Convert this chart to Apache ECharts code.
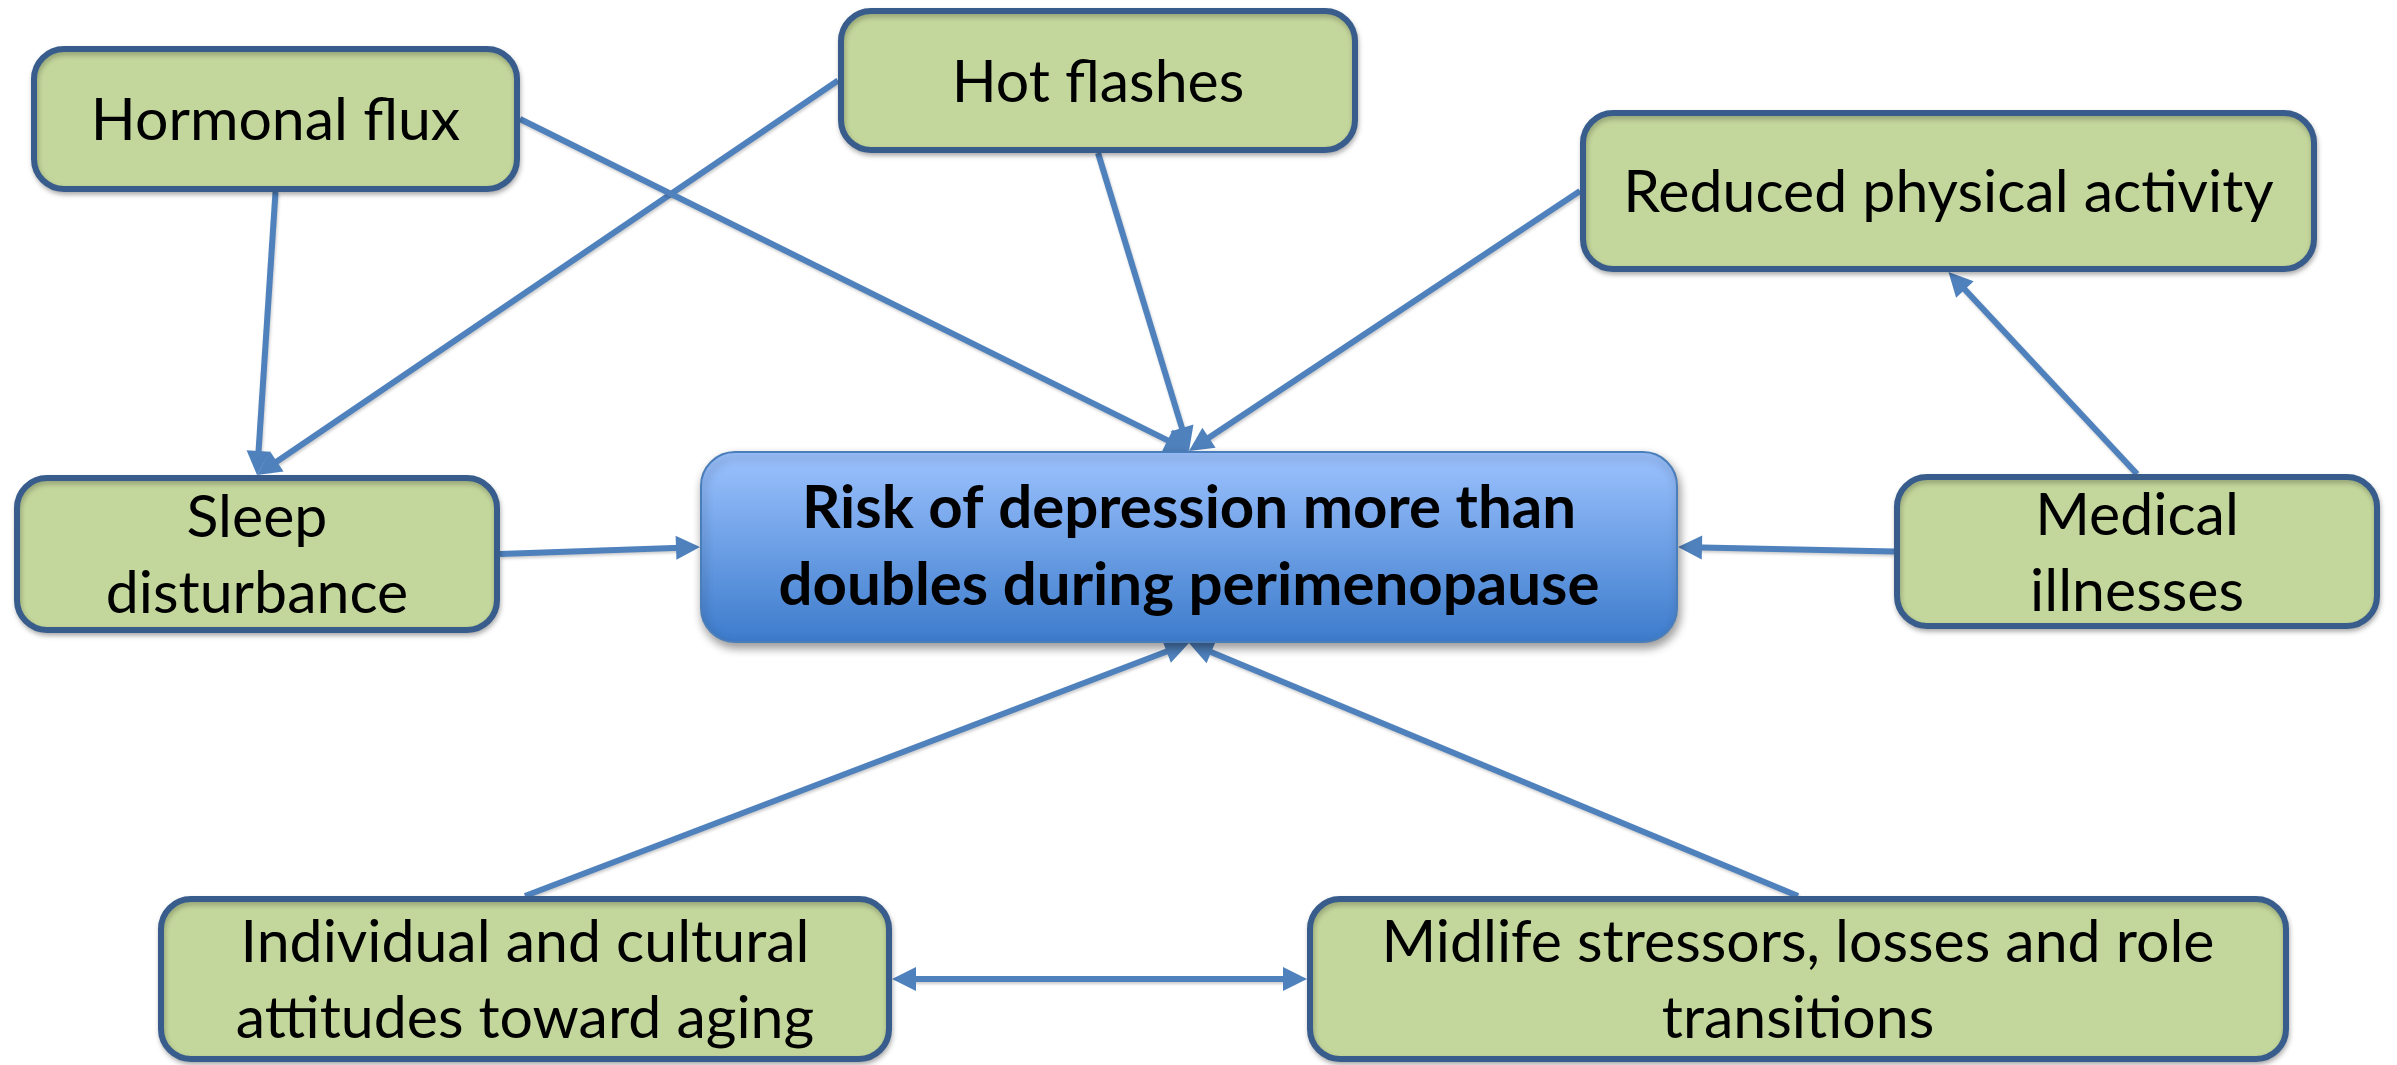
<!DOCTYPE html>
<html>
<head>
<meta charset="utf-8">
<script src="https://cdn.jsdelivr.net/npm/echarts@6/dist/echarts.min.js"></script>
<style>
html,body{margin:0;padding:0;background:#ffffff;}
#chart{width:2397px;height:1065px;}
</style>
</head>
<body>
<div id="chart"></div>
<script>
// ---------- content ----------
const nodeLabels = [
  'Hormonal flux',
  'Hot flashes',
  'Reduced physical activity',
  'Sleep\ndisturbance',
  'Risk of depression more than\ndoubles during perimenopause',
  'Medical\nillnesses',
  'Individual and cultural\nattitudes toward aging',
  'Midlife stressors, losses and role\ntransitions'
];
const nodeRole = ['factor','factor','factor','factor','outcome','factor','factor','factor'];

// directed links (index into nodeLabels)
const linkSource = [0, 1, 0, 1, 2, 5, 3, 5, 6, 7];
const linkTarget = [3, 3, 4, 4, 4, 2, 4, 4, 4, 4];
// two-way link
const twoWaySource = [6];
const twoWayTarget = [7];

// ---------- layout (diagram units, y downward) ----------
const nodeLeft   = [31, 838, 1580, 14, 700, 1894, 158, 1307];
const nodeTop    = [46, 8, 110, 475, 451, 474, 896, 896];
const nodeRight  = [520, 1358, 2317, 500, 1678, 2380, 892, 2289];
const nodeBottom = [192, 153, 272, 633, 643, 629, 1062, 1062];
const linkFromSide = ['bottom','left','right','bottom','left','top','right','left','top','top'];
const linkToSide   = ['top','top','top','top','top','bottom','left','right','bottom','bottom'];
const twoWayFromSide = ['right'];
const twoWayToSide   = ['left'];

const ARROW = 'path://M10,0 L20,22 L0,22 Z';
const ARROW_SIZE = 24;

function anchor(i, side) {
  const cx = (nodeLeft[i] + nodeRight[i]) / 2;
  const cy = (nodeTop[i] + nodeBottom[i]) / 2;
  if (side === 'top') return [cx, nodeTop[i]];
  if (side === 'bottom') return [cx, nodeBottom[i]];
  if (side === 'left') return [nodeLeft[i], cy];
  return [nodeRight[i], cy];
}
function shorten(a, b, d) {
  const dx = b[0] - a[0], dy = b[1] - a[1];
  const len = Math.sqrt(dx * dx + dy * dy);
  return [b[0] - dx / len * d, b[1] - dy / len * d];
}

const oneWayData = linkSource.map((s, k) => {
  const a = anchor(s, linkFromSide[k]);
  const b = anchor(linkTarget[k], linkToSide[k]);
  return { coords: [a, shorten(a, b, ARROW_SIZE / 2)] };
});
const twoWayData = twoWaySource.map((s, k) => {
  const a = anchor(s, twoWayFromSide[k]);
  const b = anchor(twoWayTarget[k], twoWayToSide[k]);
  return { coords: [shorten(b, a, ARROW_SIZE / 2), shorten(a, b, ARROW_SIZE / 2)] };
});

const boxData = nodeLabels.map((n, i) => [nodeLeft[i], nodeTop[i], nodeRight[i], nodeBottom[i]]);

function renderBox(params, api) {
  const i = params.dataIndex;
  const p1 = api.coord([api.value(0), api.value(1)]);
  const p2 = api.coord([api.value(2), api.value(3)]);
  const x = Math.min(p1[0], p2[0]), y = Math.min(p1[1], p2[1]);
  const w = Math.abs(p2[0] - p1[0]), h = Math.abs(p2[1] - p1[1]);
  const outcome = nodeRole[i] === 'outcome';
  const bw = outcome ? 2 : 6;
  const rectStyle = outcome ? {
    fill: {
      type: 'linear', x: 0, y: 0, x2: 0, y2: 1,
      colorStops: [{ offset: 0, color: '#9DC3FF' }, { offset: 1, color: '#3C7BCB' }]
    },
    stroke: '#4A7EBB', lineWidth: bw,
    shadowBlur: 10, shadowOffsetX: 2, shadowOffsetY: 5, shadowColor: 'rgba(0,0,0,0.4)'
  } : {
    fill: '#C3D69B', stroke: '#385D8C', lineWidth: bw,
    shadowBlur: 5, shadowOffsetX: 1, shadowOffsetY: 3, shadowColor: 'rgba(0,0,0,0.25)'
  };
  return {
    type: 'group',
    children: [
      {
        type: 'rect',
        shape: { x: x + bw / 2, y: y + bw / 2, width: w - bw, height: h - bw, r: outcome ? 34 : 30 },
        style: rectStyle
      },
      {
        type: 'text',
        style: {
          text: nodeLabels[i],
          x: x + w / 2, y: y + h / 2 + (outcome ? 0 : 2),
          align: 'center', verticalAlign: 'middle',
          fontFamily: 'Lato', fontSize: outcome ? 60 : 59,
          fontWeight: outcome ? 'bold' : 'normal',
          lineHeight: outcome ? 77 : 76,
          fill: '#000000'
        }
      }
    ]
  };
}

const chart = echarts.init(document.getElementById('chart'), null, { renderer: 'canvas' });
chart.setOption({
  animation: false,
  backgroundColor: '#ffffff',
  grid: { left: 0, right: 0, top: 0, bottom: 0, containLabel: false },
  xAxis: { type: 'value', min: 0, max: 2397, show: false },
  yAxis: { type: 'value', min: 0, max: 1065, inverse: true, show: false },
  series: [
    {
      type: 'lines', coordinateSystem: 'cartesian2d', silent: true, z: 1,
      symbol: ['none', ARROW], symbolSize: ARROW_SIZE,
      lineStyle: { color: '#4F81BD', width: 6, opacity: 1, curveness: 0,
        shadowBlur: 3, shadowOffsetX: 1, shadowOffsetY: 2, shadowColor: 'rgba(0,0,0,0.2)' },
      itemStyle: { color: '#4F81BD' },
      data: oneWayData
    },
    {
      type: 'lines', coordinateSystem: 'cartesian2d', silent: true, z: 1,
      symbol: [ARROW, ARROW], symbolSize: ARROW_SIZE,
      lineStyle: { color: '#4F81BD', width: 6, opacity: 1, curveness: 0,
        shadowBlur: 3, shadowOffsetX: 1, shadowOffsetY: 2, shadowColor: 'rgba(0,0,0,0.2)' },
      itemStyle: { color: '#4F81BD' },
      data: twoWayData
    },
    {
      type: 'custom', coordinateSystem: 'cartesian2d', silent: true, z: 2,
      encode: { x: [0, 2], y: [1, 3] },
      renderItem: renderBox,
      data: boxData
    }
  ]
});
</script>
</body>
</html>
